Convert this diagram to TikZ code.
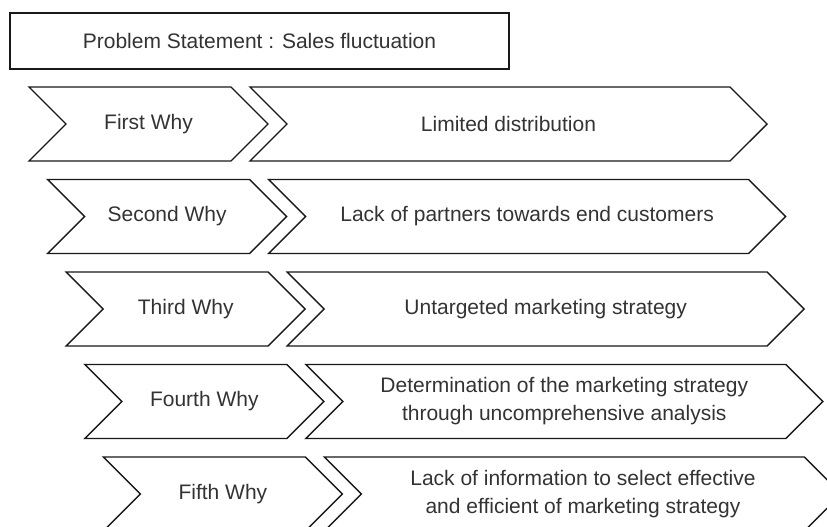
\documentclass[tikz,border=0pt]{standalone}
\usepackage{fontspec}
\setmainfont{Liberation Sans}
\usetikzlibrary{shapes.symbols}

\begin{document}
\begin{tikzpicture}[x=1pt, y=-1pt, line width=1.4pt,
	every node/.style={text=black!80, font=\fontsize{21}{28}\selectfont},
	whybox/.style={draw=black!90, signal, signal from=west, signal to=east, signal pointer angle=90, minimum height=74pt, minimum width=239pt, inner sep=0pt, align=center},
	causebox/.style={whybox, minimum width=517pt}]
	
	% Page frame
	\useasboundingbox (0,0) rectangle (827,527);
	\clip (0,0) rectangle (827,527);
	
	% Problem statement
	\node [draw=black!90, rectangle, minimum width=499pt, minimum height=56pt] (problem) at (259.5,41) {Problem Statement : Sales fluctuation};
	
	% Why steps and their causes
	\node [whybox] (why1) at (148.5,124) {First Why};
	\node [causebox] (cause1) at (508.5,124) {Limited distribution};
	
	\node [whybox] (why2) at (167.1,216.5) {Second Why};
	\node [causebox] (cause2) at (527.1,216.5) {Lack of partners towards end customers};
	
	\node [whybox] (why3) at (185.7,309) {Third Why};
	\node [causebox] (cause3) at (545.7,309) {Untargeted marketing strategy};
	
	\node [whybox] (why4) at (204.3,401.5) {Fourth Why};
	\node [causebox] (cause4) at (564.3,401.5) {Determination of the marketing strategy\\through uncomprehensive analysis};
	
	\node [whybox] (why5) at (222.9,494) {Fifth Why};
	\node [causebox] (cause5) at (582.9,494) {Lack of information to select effective\\and efficient of marketing strategy};
	
\end{tikzpicture}
\end{document}
